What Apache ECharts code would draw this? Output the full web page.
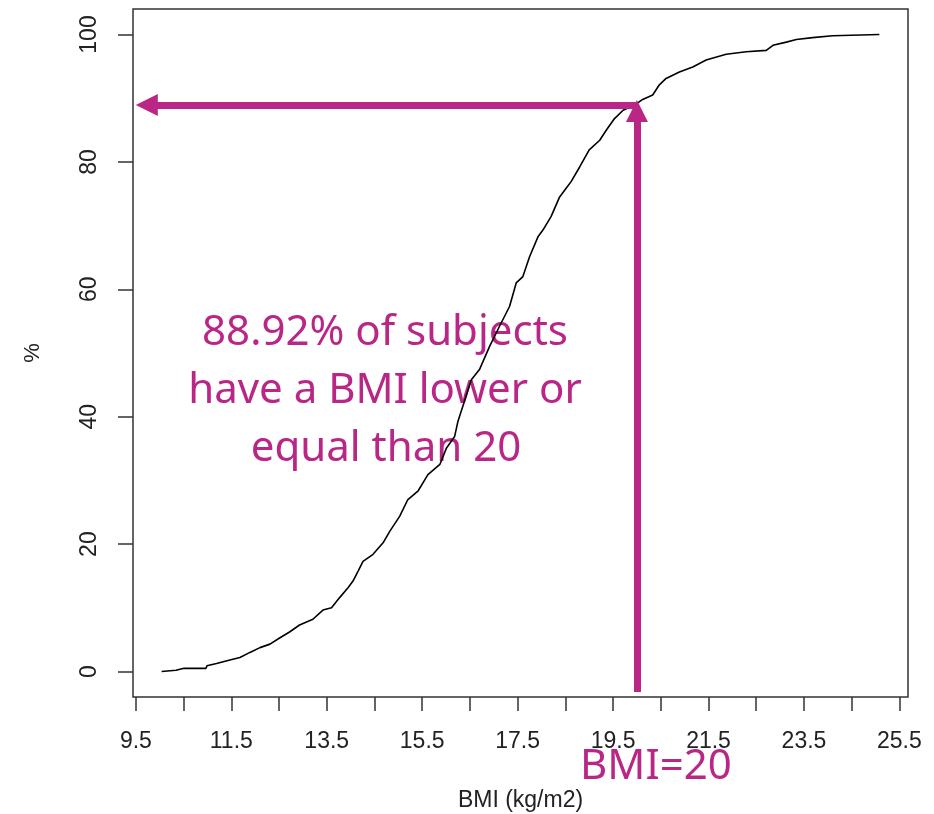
<!DOCTYPE html>
<html>
<head>
<meta charset="utf-8">
<script src="https://cdn.jsdelivr.net/npm/echarts@6/dist/echarts.min.js"></script>
<style>
html,body{margin:0;padding:0;background:#fff;}
#chart{width:934px;height:814px;}
</style>
</head>
<body>
<div id="chart"></div>
<script>
// ECDF of BMI
var bmi = [10.04, 10.34, 10.51, 10.97, 10.99, 11.19, 11.47, 11.68, 11.89, 12.10, 12.31, 12.52, 12.72, 12.93, 13.21, 13.42, 13.60, 13.77, 13.95, 14.05, 14.16, 14.26, 14.47, 14.68, 14.82, 15.03, 15.20, 15.41, 15.62, 15.87, 16.01, 16.18, 16.25, 16.35, 16.53, 16.70, 16.91, 17.12, 17.33, 17.47, 17.61, 17.75, 17.93, 18.03, 18.20, 18.38, 18.52, 18.62, 18.80, 19.00, 19.22, 19.36, 19.53, 19.71, 19.95, 20.12, 20.33, 20.47, 20.61, 20.89, 21.17, 21.45, 21.87, 22.29, 22.71, 22.85, 23.13, 23.34, 23.68, 24.10, 25.08];
var pct = [0, 0.2, 0.5, 0.5, 0.9, 1.25, 1.8, 2.2, 3.0, 3.75, 4.3, 5.3, 6.2, 7.3, 8.2, 9.65, 10.0, 11.6, 13.2, 14.2, 15.8, 17.3, 18.4, 20.2, 22.0, 24.4, 27.0, 28.3, 30.9, 32.5, 35.1, 36.9, 39.3, 41.6, 45.8, 47.4, 51.0, 54.2, 57.3, 61.0, 62.0, 65.1, 68.3, 69.3, 71.4, 74.5, 75.9, 76.9, 79.2, 81.9, 83.4, 85.0, 86.8, 88.1, 88.92, 89.8, 90.5, 92.1, 93.1, 94.1, 94.9, 96.0, 96.9, 97.3, 97.5, 98.3, 98.8, 99.2, 99.5, 99.8, 100];

var xTicks = [9.5, 10.5, 11.5, 12.5, 13.5, 14.5, 15.5, 16.5, 17.5, 18.5, 19.5, 20.5, 21.5, 22.5, 23.5, 24.5, 25.5];
var xLabels = [9.5, 11.5, 13.5, 15.5, 17.5, 19.5, 21.5, 23.5, 25.5];
var yTicks = [0, 20, 40, 60, 80, 100];

// annotation values (arrow head symbols are centred on the line end)
var bmiCut = 20;
var pctCut = 88.92;
var hArrowEndX = 9.73;
var vArrowBottomY = -3.2;
var vArrowEndY = 88.0;

var magenta = '#B92685';

var chart = echarts.init(document.getElementById('chart'));
var data = bmi.map(function (b, i) { return [b, pct[i]]; });

chart.setOption({
  animation: false,
  backgroundColor: '#fff',
  grid: {
    left: 133, right: 26, top: 9, bottom: 117,
    containLabel: false, outerBoundsMode: 'none',
    show: true, borderColor: '#333', borderWidth: 1.5, backgroundColor: 'transparent'
  },
  xAxis: {
    type: 'value', min: 9.44, max: 25.68,
    name: 'BMI (kg/m2)', nameLocation: 'middle', nameGap: 92,
    nameTextStyle: { fontFamily: 'Liberation Sans', fontSize: 23, color: '#222' },
    axisLine: { show: false, onZero: false },
    splitLine: { show: false },
    axisTick: { show: true, inside: false, customValues: xTicks, length: 14, lineStyle: { color: '#333', width: 1.5 } },
    axisLabel: {
      customValues: xLabels, margin: 33,
      fontFamily: 'Liberation Sans', fontSize: 23, color: '#222',
      formatter: function (v) { return v.toFixed(1); }
    }
  },
  yAxis: {
    type: 'value', min: -4, max: 104,
    name: '%', nameLocation: 'middle', nameGap: 89, nameRotate: 90,
    nameTextStyle: { fontFamily: 'Liberation Sans', fontSize: 22, color: '#222' },
    axisLine: { show: false, onZero: false },
    splitLine: { show: false },
    axisTick: { show: true, inside: false, customValues: yTicks, length: 15, lineStyle: { color: '#333', width: 1.5 } },
    axisLabel: {
      customValues: yTicks, margin: 32, rotate: 90,
      fontFamily: 'Liberation Sans', fontSize: 23, color: '#222'
    }
  },
  series: [{
    type: 'line',
    data: data,
    showSymbol: false,
    symbol: 'none',
    lineStyle: { color: '#000', width: 1.6 },
    z: 2,
    markLine: {
      silent: true,
      animation: false,
      label: { show: false },
      symbol: ['none', 'triangle'],
      symbolSize: [22, 22],
      lineStyle: { color: magenta, width: 7, type: 'solid' },
      data: [
        [{ coord: [bmiCut, pctCut] }, { coord: [hArrowEndX, pctCut] }],
        [{ coord: [bmiCut, vArrowBottomY] }, { coord: [bmiCut, vArrowEndY] }]
      ]
    }
  }],
  graphic: [
    { type: 'text', x: 385, y: 333, style: { text: '88.92% of subjects', font: '42px "Noto Sans"', fill: magenta, align: 'center', verticalAlign: 'middle' } },
    { type: 'text', x: 385, y: 391, style: { text: 'have a BMI lower or', font: '42px "Noto Sans"', fill: magenta, align: 'center', verticalAlign: 'middle' } },
    { type: 'text', x: 386, y: 449, style: { text: 'equal than 20', font: '42px "Noto Sans"', fill: magenta, align: 'center', verticalAlign: 'middle' } },
    { type: 'text', x: 580, y: 767, style: { text: 'BMI=20', font: '42px "Noto Sans"', fill: magenta, align: 'left', verticalAlign: 'middle' } }
  ]
});
</script>
</body>
</html>
